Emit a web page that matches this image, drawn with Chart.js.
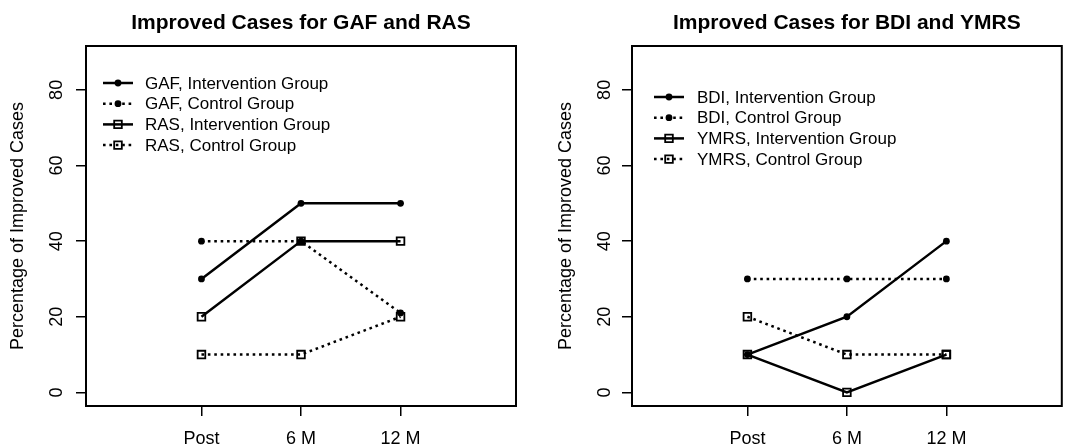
<!DOCTYPE html>
<html>
<head>
<meta charset="utf-8">
<script src="https://cdn.jsdelivr.net/npm/chart.js@4.4.1/dist/chart.umd.min.js"></script>
<style>
  html, body { margin: 0; padding: 0; background: #fff; }
  #wrap { position: relative; width: 1069px; height: 446px; overflow: hidden; }
  .panel { position: absolute; top: 0; }
</style>
</head>
<body>
<div id="wrap">
  <div class="panel" style="left:0px"><canvas id="c1" width="535" height="446"></canvas></div>
  <div class="panel" style="left:535px"><canvas id="c2" width="534" height="446"></canvas></div>
</div>
<script>
// ---- data ----
const categories = ['Post', '6 M', '12 M'];
const xPositions = [1, 2, 3];
const yTicks = [0, 20, 40, 60, 80];

const gafIntervention = [30, 50, 50];
const gafControl = [40, 40, 21];
const rasIntervention = [20, 40, 40];
const rasControl = [10, 10, 20];

const bdiIntervention = [10, 20, 40];
const bdiControl = [30, 30, 30];
const ymrsIntervention = [10, 0, 10];
const ymrsControl = [20, 10, 10];

const titleLeft = 'Improved Cases for GAF and RAS';
const titleRight = 'Improved Cases for BDI and YMRS';
const yAxisTitle = 'Percentage of Improved Cases';

// ---- helpers ----
const FONT = "'Liberation Sans', Arial, Helvetica, sans-serif";
const toPoints = vals => vals.map((v, i) => ({ x: xPositions[i], y: v }));

function series(label, vals, dotted, marker) {
  const isSquare = marker === 'square';
  return {
    label,
    xAxisID: 'x',
    yAxisID: 'y',
    data: toPoints(vals),
    borderColor: '#000',
    borderWidth: 2.5,
    borderDash: dotted ? [2.6, 3.8] : [],
    tension: 0,
    fill: false,
    pointStyle: isSquare ? 'rect' : 'circle',
    pointRadius: isSquare ? 5.4 : 3.4,
    pointHoverRadius: isSquare ? 5.4 : 3.4,
    pointBorderWidth: isSquare ? 1.8 : 0,
    pointBorderColor: '#000',
    pointBackgroundColor: isSquare ? 'rgba(0,0,0,0)' : '#000'
  };
}

const boxPlugin = {
  id: 'plotBox',
  afterDraw(chart) {
    const { ctx, chartArea: a } = chart;
    ctx.save();
    ctx.strokeStyle = '#000';
    ctx.lineWidth = 2;
    ctx.strokeRect(a.left, a.top, a.right - a.left, a.bottom - a.top);
    ctx.restore();
  }
};

const innerLegend = {
  id: 'innerLegend',
  afterDraw(chart, args, opts) {
    const { ctx, chartArea: a } = chart;
    const x0 = a.left + opts.dx;
    const y0 = a.top + opts.dy;
    ctx.save();
    chart.data.datasets.forEach((ds, i) => {
      const y = y0 + i * opts.rowH;
      ctx.strokeStyle = '#000';
      ctx.lineWidth = ds.borderWidth;
      ctx.setLineDash(ds.borderDash || []);
      ctx.beginPath();
      ctx.moveTo(x0, y);
      ctx.lineTo(x0 + opts.symW, y);
      ctx.stroke();
      ctx.setLineDash([]);
      ctx.fillStyle = ds.pointBackgroundColor;
      ctx.strokeStyle = ds.pointBorderColor;
      ctx.lineWidth = ds.pointBorderWidth;
      Chart.helpers.drawPoint(ctx, {
        pointStyle: ds.pointStyle, radius: ds.pointRadius, rotation: 0,
        borderWidth: ds.pointBorderWidth
      }, x0 + opts.symW / 2, y);
      ctx.fillStyle = '#000';
      ctx.font = opts.fontSize + 'px ' + FONT;
      ctx.textAlign = 'left';
      ctx.textBaseline = 'middle';
      ctx.fillText(ds.label, x0 + opts.textX, y + 1);
    });
    ctx.restore();
  }
};

function makeChart(id, title, datasets, cfg) {
  return new Chart(document.getElementById(id), {
    type: 'line',
    data: { datasets },
    plugins: [boxPlugin, innerLegend],
    options: {
      responsive: false,
      animation: false,
      devicePixelRatio: 1,
      events: [],
      layout: { padding: { left: 0, right: cfg.padRight, top: 0, bottom: 0 } },
      plugins: {
        legend: { display: false },
        tooltip: { enabled: false },
        title: { display: false },
        innerLegend: cfg.legend
      },
      scales: {
        x: {
          type: 'linear', position: 'bottom', min: -0.16, max: 4.16,
          afterBuildTicks: s => { s.ticks = xPositions.map(v => ({ value: v })); },
          afterFit: s => { s.height = 40; },
          grid: { drawOnChartArea: false, drawTicks: true, tickLength: 10, color: '#000', lineWidth: 1.5 },
          border: { display: false },
          ticks: {
            color: '#000', padding: 12, maxRotation: 0, autoSkip: false,
            font: { family: FONT, size: 18 },
            callback: v => categories[xPositions.indexOf(v)]
          }
        },
        xTop: {
          type: 'linear', position: 'top', min: 0, max: 1,
          afterFit: s => { s.height = 46; },
          grid: { display: false, drawTicks: false },
          border: { display: false },
          ticks: { display: false },
          title: {
            display: true, text: title, color: '#000', align: 'center',
            font: { family: FONT, size: 21, weight: 'bold', lineHeight: 1.2 },
            padding: { top: 11, bottom: 0 }
          }
        },
        y: {
          type: 'linear', position: 'left', min: -3.6, max: 91.6,
          afterBuildTicks: s => { s.ticks = yTicks.map(v => ({ value: v })); },
          afterFit: s => { s.width = cfg.yWidth; },
          grid: { drawOnChartArea: false, drawTicks: true, tickLength: 10, color: '#000', lineWidth: 1.5 },
          border: { display: false },
          ticks: {
            color: '#000', padding: cfg.tickPad, minRotation: 90, maxRotation: 90,
            crossAlign: 'center', autoSkip: false,
            font: { family: FONT, size: 18 }
          },
          title: {
            display: true, text: yAxisTitle, color: '#000',
            font: { family: FONT, size: 18, lineHeight: 1.2 },
            padding: { top: cfg.titlePad, bottom: 0 }
          }
        }
      }
    }
  });
}

makeChart('c1', titleLeft, [
  series('GAF, Intervention Group', gafIntervention, false, 'circle'),
  series('GAF, Control Group', gafControl, true, 'circle'),
  series('RAS, Intervention Group', rasIntervention, false, 'square'),
  series('RAS, Control Group', rasControl, true, 'square')
], { padRight: 19, yWidth: 86, tickPad: 9, titlePad: 7,
     legend: { dx: 17, dy: 37, rowH: 20.7, symW: 30, textX: 42, fontSize: 17 } });

makeChart('c2', titleRight, [
  series('BDI, Intervention Group', bdiIntervention, false, 'circle'),
  series('BDI, Control Group', bdiControl, true, 'circle'),
  series('YMRS, Intervention Group', ymrsIntervention, false, 'square'),
  series('YMRS, Control Group', ymrsControl, true, 'square')
], { padRight: 4, yWidth: 97, tickPad: 7, titlePad: 20,
     legend: { dx: 22, dy: 51, rowH: 20.7, symW: 30, textX: 43, fontSize: 17 } });
</script>
</body>
</html>
